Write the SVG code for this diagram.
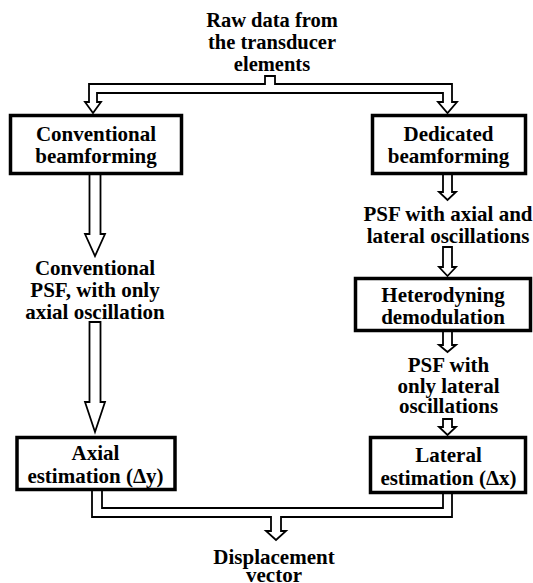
<svg xmlns="http://www.w3.org/2000/svg" width="533" height="583" viewBox="0 0 533 583">
<style>
.t{font-family:'Liberation Serif',serif;font-weight:700;font-size:21px;fill:#000;text-anchor:middle}
.box{fill:#fff;stroke:#000;stroke-width:3.5}
.con{fill:#fff;stroke:#000;stroke-width:1.8;stroke-linejoin:miter}
</style>
<rect width="533" height="583" fill="#fff"/>
<g id="connectors">
<path class="con" d="M265,84 V76 H275 V84 H452 V102 H457 L447.5,113 L438,102 H443 V93 H97 V102 H101 L93,113 L85,102 H89 V84 Z"/>
<path class="con" d="M89.5,174 V234 H85 L95,256 L105,234 H100.5 V174 Z"/>
<path class="con" d="M89.5,322 V402 H85 L95,432 L105,402 H100.5 V322 Z"/>
<path class="con" d="M443,174 V192 H439 L447.5,200 L456,192 H452 V174 Z"/>
<path class="con" d="M443,247 V267 H439 L447.5,276 L456,267 H452 V247 Z"/>
<path class="con" d="M443,331 V345 H439 L447.5,352 L456,345 H452 V331 Z"/>
<path class="con" d="M443,419 V427 H439 L447.5,435 L456,427 H452 V419 Z"/>
<path class="con" d="M92,490 V517 H271 V531 H266 L276,540 L286,531 H281 V517 H452 V493 H443 V508 H102 V490 Z"/>
</g>
<g class="t" font-family="Liberation Serif" font-weight="bold">
<g id="raw-data">
<text x="272" y="27" font-size="20.5">Raw data from</text>
<text x="272" y="49" font-size="20.5">the transducer</text>
<text x="272" y="71" font-size="20.5">elements</text>
</g>
<g id="conventional-beamforming">
<rect class="box" x="10.5" y="115.5" width="171" height="58"/>
<text x="96" y="141">Conventional</text>
<text x="96" y="163">beamforming</text>
</g>
<g id="dedicated-beamforming">
<rect class="box" x="372.5" y="115.5" width="153" height="58"/>
<text x="448.5" y="141">Dedicated</text>
<text x="448.5" y="163">beamforming</text>
</g>
<g id="conventional-psf">
<text x="95" y="275">Conventional</text>
<text x="95" y="297">PSF, with only</text>
<text x="95" y="319">axial oscillation</text>
</g>
<g id="psf-axial-lateral">
<text x="448" y="221">PSF with axial and</text>
<text x="448" y="243">lateral oscillations</text>
</g>
<g id="heterodyning">
<rect class="box" x="355.5" y="278.5" width="175" height="52"/>
<text x="443" y="302">Heterodyning</text>
<text x="443" y="324">demodulation</text>
</g>
<g id="psf-lateral">
<text x="448.5" y="372">PSF with</text>
<text x="448.5" y="393">only lateral</text>
<text x="448.5" y="413">oscillations</text>
</g>
<g id="axial-estimation">
<rect class="box" x="17" y="437.5" width="158" height="52"/>
<text x="95.5" y="460">Axial</text>
<text x="95.5" y="483">estimation (Δy)</text>
</g>
<g id="lateral-estimation">
<rect class="box" x="370.5" y="437.5" width="155" height="55"/>
<text x="448.5" y="462">Lateral</text>
<text x="448.5" y="485">estimation (Δx)</text>
</g>
<g id="displacement">
<text x="274" y="564">Displacement</text>
<text x="274" y="582">vector</text>
</g>
</g>
</svg>
